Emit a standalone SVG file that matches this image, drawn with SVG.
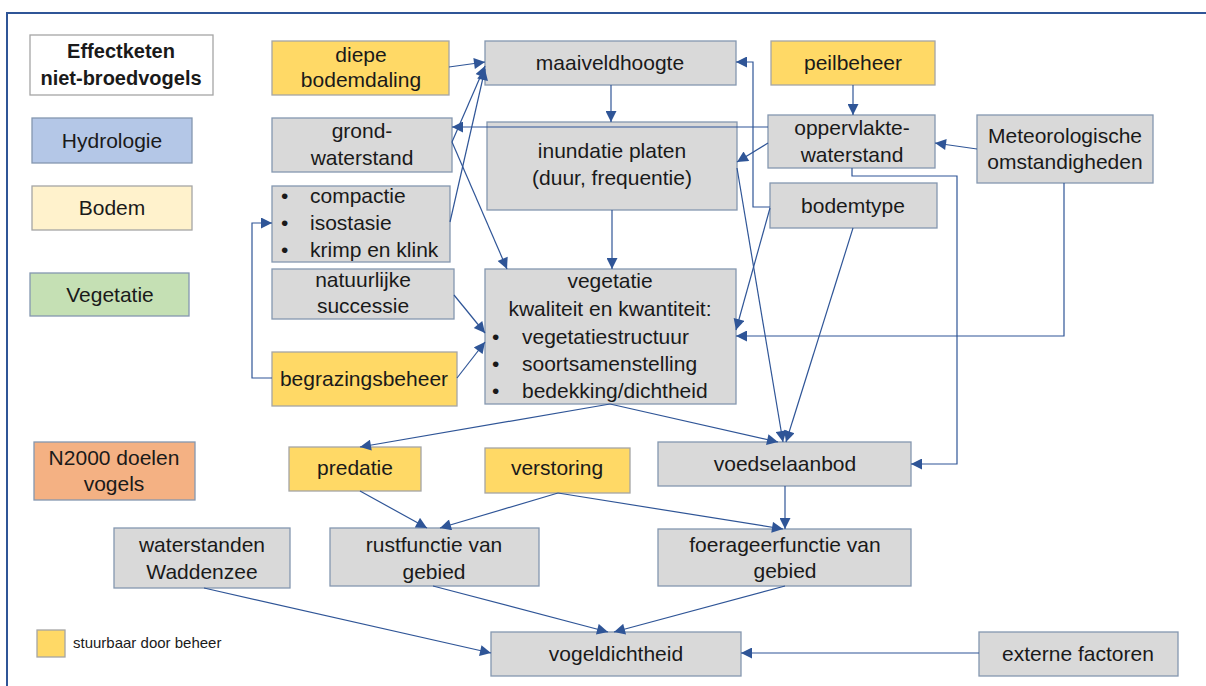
<svg xmlns="http://www.w3.org/2000/svg" width="1206" height="686" viewBox="0 0 1206 686">
<style>
text{font-family:"Liberation Sans",Arial,sans-serif;font-size:21px;fill:#1a1a1a}
.c{text-anchor:middle}
.b{font-weight:bold;font-size:20px}
.g{fill:#d9d9d9;stroke:#8497b0;stroke-width:1.3}
.y{fill:#ffd966;stroke:#a5a5a5;stroke-width:1.3}
.w{fill:#ffffff;stroke:#a5a5a5;stroke-width:1.3}
.hy{fill:#b4c7e7;stroke:#8497b0;stroke-width:1.3}
.bo{fill:#fff2cc;stroke:#a5a5a5;stroke-width:1.3}
.ve{fill:#c5e0b4;stroke:#8497b0;stroke-width:1.3}
.n2{fill:#f4b183;stroke:#8497b0;stroke-width:1.3}
.cn path{fill:none;stroke:#2f5597;stroke-width:1.2;marker-end:url(#ah)}
</style>
<defs>
<marker id="ah" viewBox="0 0 10 10" refX="10" refY="5" markerWidth="13" markerHeight="11" markerUnits="userSpaceOnUse" orient="auto">
<path d="M0,0 L10,5 L0,10 z" fill="#2f5597"/>
</marker>
</defs>
<rect x="0" y="0" width="1206" height="686" fill="#ffffff"/>
<rect x="7" y="13" width="1220" height="700" fill="none" stroke="#2f5597" stroke-width="2"/>

<g id="legend-title"><rect class="w" x="30" y="35" width="183" height="60"/><text class="c b" x="121" y="58">Effectketen</text><text class="c b" x="121" y="85">niet-broedvogels</text></g>
<g id="legend-hydrologie"><rect class="hy" x="32" y="118" width="160" height="45"/><text class="c" x="112" y="148">Hydrologie</text></g>
<g id="legend-bodem"><rect class="bo" x="32" y="186" width="160" height="44"/><text class="c" x="112" y="215">Bodem</text></g>
<g id="legend-vegetatie"><rect class="ve" x="30" y="273" width="159" height="43"/><text class="c" x="110" y="302">Vegetatie</text></g>
<g id="legend-n2000"><rect class="n2" x="34" y="442" width="161" height="58"/><text class="c" x="114" y="465">N2000 doelen</text><text class="c" x="114" y="491">vogels</text></g>
<g id="legend-stuurbaar"><rect class="y" x="37" y="630" width="28" height="27"/><text x="73" y="648" style="font-size:15px">stuurbaar door beheer</text></g>

<g id="diepe-bodemdaling"><rect class="y" x="272" y="41" width="177" height="54"/><text class="c" x="361" y="62">diepe</text><text class="c" x="361" y="87">bodemdaling</text></g>
<g id="grondwaterstand"><rect class="g" x="272" y="118" width="180" height="54"/><text class="c" x="362" y="138">grond-</text><text class="c" x="362" y="165">waterstand</text></g>
<g id="compactie"><rect class="g" x="272" y="186" width="178" height="76"/>
<text x="281" y="203">•</text><text x="310" y="203">compactie</text>
<text x="281" y="230">•</text><text x="310" y="230">isostasie</text>
<text x="281" y="257">•</text><text x="310" y="257">krimp en klink</text></g>
<g id="natuurlijke-successie"><rect class="g" x="272" y="269" width="182" height="50"/><text class="c" x="363" y="287">natuurlijke</text><text class="c" x="363" y="313">successie</text></g>
<g id="begrazingsbeheer"><rect class="y" x="272" y="352" width="185" height="54"/><text class="c" x="364" y="386">begrazingsbeheer</text></g>

<g id="maaiveldhoogte"><rect class="g" x="485" y="41" width="251" height="44"/><text class="c" x="610" y="70">maaiveldhoogte</text></g>
<g id="inundatie"><rect class="g" x="487" y="122" width="250" height="88"/><text class="c" x="612" y="158">inundatie platen</text><text class="c" x="612" y="185">(duur, frequentie)</text></g>
<g id="vegetatie"><rect class="g" x="485" y="269" width="251" height="135"/>
<text class="c" x="610" y="288">vegetatie</text><text class="c" x="610" y="316">kwaliteit en kwantiteit:</text>
<text x="492" y="344">•</text><text x="522" y="344">vegetatiestructuur</text>
<text x="492" y="371">•</text><text x="522" y="371">soortsamenstelling</text>
<text x="492" y="398">•</text><text x="522" y="398">bedekking/dichtheid</text></g>

<g id="peilbeheer"><rect class="y" x="771" y="41" width="164" height="44"/><text class="c" x="853" y="70">peilbeheer</text></g>
<g id="oppervlaktewaterstand"><rect class="g" x="768" y="115" width="167" height="53"/><text class="c" x="852" y="135">oppervlakte-</text><text class="c" x="852" y="162">waterstand</text></g>
<g id="bodemtype"><rect class="g" x="770" y="183" width="167" height="45"/><text class="c" x="853" y="213">bodemtype</text></g>
<g id="meteorologische"><rect class="g" x="977" y="115" width="176" height="68"/><text class="c" x="1065" y="143">Meteorologische</text><text class="c" x="1065" y="169">omstandigheden</text></g>

<g id="predatie"><rect class="y" x="289" y="447" width="132" height="44"/><text class="c" x="355" y="475">predatie</text></g>
<g id="verstoring"><rect class="y" x="485" y="448" width="145" height="45"/><text class="c" x="557" y="475">verstoring</text></g>
<g id="voedselaanbod"><rect class="g" x="658" y="442" width="253" height="44"/><text class="c" x="785" y="471">voedselaanbod</text></g>
<g id="waterstanden"><rect class="g" x="114" y="528" width="176" height="60"/><text class="c" x="202" y="552">waterstanden</text><text class="c" x="202" y="579">Waddenzee</text></g>
<g id="rustfunctie"><rect class="g" x="330" y="528" width="209" height="58"/><text class="c" x="434" y="552">rustfunctie van</text><text class="c" x="434" y="579">gebied</text></g>
<g id="foerageerfunctie"><rect class="g" x="658" y="529" width="253" height="57"/><text class="c" x="785" y="552">foerageerfunctie van</text><text class="c" x="785" y="578">gebied</text></g>
<g id="vogeldichtheid"><rect class="g" x="491" y="632" width="250" height="44"/><text class="c" x="616" y="661">vogeldichtheid</text></g>
<g id="externe-factoren"><rect class="g" x="979" y="632" width="199" height="44"/><text class="c" x="1078" y="661">externe factoren</text></g>

<g id="connectors" class="cn">
<path d="M449,67 L485,62"/>
<path d="M452,142 L485,66"/>
<path d="M450,222 L485,69"/>
<path d="M611,85 L611,122"/>
<path d="M768,127 L452,127"/>
<path d="M768,143 L737,162"/>
<path d="M853,85 L853,115"/>
<path d="M977,149 L935,143"/>
<path d="M770,207 L753,207 L753,62 L736,62"/>
<path d="M452,142 L507,269"/>
<path d="M612,210 L612,269"/>
<path d="M454,295 L485,333"/>
<path d="M457,378 L485,342"/>
<path d="M272,378 L252,378 L252,223 L272,223"/>
<path d="M770,208 L736,330"/>
<path d="M1064,183 L1064,336 L736,336"/>
<path d="M737,168 L783,442"/>
<path d="M853,228 L786,442"/>
<path d="M610,404 L778,442"/>
<path d="M610,404 L360,447"/>
<path d="M852,168 L852,176 L957,176 L957,464 L911,464"/>
<path d="M785,486 L785,529"/>
<path d="M558,493 L783,529"/>
<path d="M360,491 L427,528"/>
<path d="M558,493 L440,528"/>
<path d="M204,588 L491,653"/>
<path d="M433,586 L608,632"/>
<path d="M785,586 L614,632"/>
<path d="M979,653 L741,653"/>
</g>
</svg>
